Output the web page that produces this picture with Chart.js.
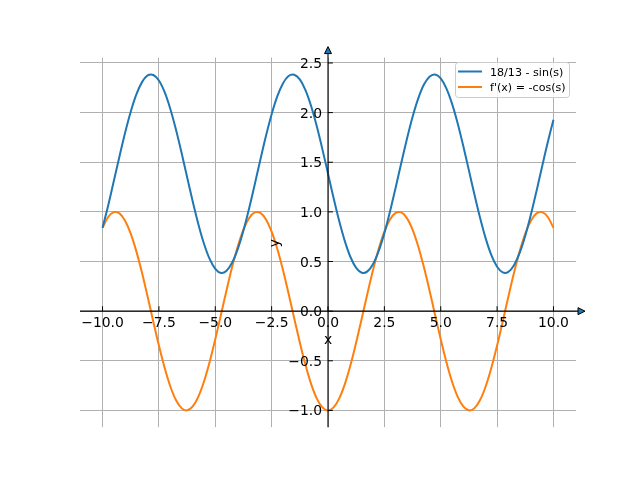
<!DOCTYPE html>
<html><head><meta charset="utf-8">
<script src="https://cdn.jsdelivr.net/npm/chart.js@4/dist/chart.umd.min.js"></script>
<style>html,body{margin:0;padding:0;background:#fff;}canvas{display:block;}</style>
</head><body>
<canvas id="c" width="640" height="480"></canvas>
<script>
const xValues = [-10,-9.75,-9.5,-9.25,-9,-8.75,-8.5,-8.25,-8,-7.75,-7.5,-7.25,-7,-6.75,-6.5,-6.25,-6,-5.75,-5.5,-5.25,-5,-4.75,-4.5,-4.25,-4,-3.75,-3.5,-3.25,-3,-2.75,-2.5,-2.25,-2,-1.75,-1.5,-1.25,-1,-0.75,-0.5,-0.25,0,0.25,0.5,0.75,1,1.25,1.5,1.75,2,2.25,2.5,2.75,3,3.25,3.5,3.75,4,4.25,4.5,4.75,5,5.25,5.5,5.75,6,6.25,6.5,6.75,7,7.25,7.5,7.75,8,8.25,8.5,8.75,9,9.25,9.5,9.75,10];
const seriesSin = [0.841,1.065,1.310,1.558,1.797,2.009,2.183,2.307,2.374,2.379,2.323,2.208,2.042,1.835,1.600,1.351,1.105,0.876,0.679,0.526,0.426,0.385,0.407,0.490,0.628,0.813,1.034,1.276,1.526,1.766,1.983,2.163,2.294,2.369,2.382,2.334,2.226,2.066,1.864,1.632,1.385,1.137,0.905,0.703,0.543,0.436,0.387,0.401,0.475,0.607,0.786,1.003,1.244,1.493,1.735,1.956,2.141,2.280,2.362,2.384,2.344,2.244,2.090,1.893,1.664,1.418,1.170,0.935,0.728,0.562,0.447,0.390,0.395,0.462,0.586,0.760,0.973,1.211,1.460,1.704,1.929];
const seriesCos = [0.839,0.948,0.997,0.985,0.911,0.781,0.602,0.386,0.146,-0.104,-0.347,-0.568,-0.754,-0.893,-0.977,-0.999,-0.960,-0.861,-0.709,-0.512,-0.284,-0.038,0.211,0.446,0.654,0.821,0.937,0.994,0.990,0.924,0.801,0.628,0.416,0.178,-0.071,-0.315,-0.540,-0.732,-0.878,-0.969,-1.000,-0.969,-0.878,-0.732,-0.540,-0.315,-0.071,0.178,0.416,0.628,0.801,0.924,0.990,0.994,0.937,0.821,0.654,0.446,0.211,-0.038,-0.284,-0.512,-0.709,-0.861,-0.960,-0.999,-0.977,-0.893,-0.754,-0.568,-0.347,-0.104,0.146,0.386,0.602,0.781,0.911,0.985,0.997,0.948,0.839];
const xTicks = [-10,-7.5,-5,-2.5,0,2.5,5,7.5,10];
const yTicks = [-1,-0.5,0,0.5,1,1.5,2,2.5];
const seriesLabels = ['18/13 - sin(s)', "f'(x) = -cos(s)"];
const seriesColors = ['#1f77b4', '#ff7f0e'];
const axisTitles = ['x', 'y'];
const xRange = [-11, 11];
const yRange = [-1.169, 2.554];

const fmt = v => v.toFixed(1).replace('-', '\u2212');
const FONT = '"DejaVu Sans", sans-serif';

const decor = {
  id: 'decor',
  afterDatasetsDraw(chart) {
    const ctx = chart.ctx, xs = chart.scales.x, ys = chart.scales.y, a = chart.chartArea;
    const x0 = xs.getPixelForValue(0), y0 = ys.getPixelForValue(0);
    ctx.save();
    ctx.strokeStyle = '#000'; ctx.lineWidth = 1.1; ctx.lineCap = 'butt';
    ctx.beginPath(); ctx.moveTo(a.left, y0); ctx.lineTo(a.right + 2, y0); ctx.stroke();
    ctx.beginPath(); ctx.moveTo(x0, a.bottom); ctx.lineTo(x0, a.top - 4); ctx.stroke();
    ctx.lineWidth = 1;
    xs.ticks.forEach(t => { const p = xs.getPixelForValue(t.value); ctx.beginPath(); ctx.moveTo(p, y0); ctx.lineTo(p, y0 - 4.9); ctx.stroke(); });
    ys.ticks.forEach(t => { const p = ys.getPixelForValue(t.value); ctx.beginPath(); ctx.moveTo(x0, p); ctx.lineTo(x0 + 4.9, p); ctx.stroke(); });
    ctx.fillStyle = '#000';
    ctx.font = '13.9px ' + FONT;
    ctx.textBaseline = 'alphabetic';
    ctx.textAlign = 'center';
    xs.ticks.forEach(t => ctx.fillText(fmt(t.value), xs.getPixelForValue(t.value), y0 + 15.4));
    ctx.textAlign = 'right';
    ys.ticks.forEach(t => ctx.fillText(fmt(t.value), x0 - 6, ys.getPixelForValue(t.value) + 5));
    ctx.fillStyle = '#1f77b4'; ctx.strokeStyle = '#000'; ctx.lineWidth = 1;
    ctx.beginPath(); ctx.moveTo(a.right + 2, y0 - 3.5); ctx.lineTo(a.right + 9, y0); ctx.lineTo(a.right + 2, y0 + 3.5); ctx.closePath(); ctx.fill(); ctx.stroke();
    ctx.beginPath(); ctx.moveTo(x0 - 3.5, a.top - 4); ctx.lineTo(x0, a.top - 11); ctx.lineTo(x0 + 3.5, a.top - 4); ctx.closePath(); ctx.fill(); ctx.stroke();
    ctx.fillStyle = '#000';
    ctx.textAlign = 'center';
    ctx.fillText(axisTitles[0], x0, y0 + 32.5);
    ctx.save(); ctx.translate(x0 - 49.5, y0 - 68); ctx.rotate(-Math.PI / 2); ctx.fillText(axisTitles[1], 0, 0); ctx.restore();
    ctx.restore();
  },
  afterDraw(chart) {
    const ctx = chart.ctx;
    ctx.save();
    ctx.beginPath();
    ctx.roundRect(455.5, 62.5, 114, 35, 3);
    ctx.fillStyle = 'rgba(255,255,255,0.8)'; ctx.fill();
    ctx.strokeStyle = '#cccccc'; ctx.lineWidth = 1; ctx.stroke();
    ctx.font = '11.1px ' + FONT; ctx.textAlign = 'left'; ctx.textBaseline = 'alphabetic';
    chart.data.datasets.forEach((ds, i) => {
      const y = 71.5 + i * 15.5;
      ctx.strokeStyle = ds.borderColor; ctx.lineWidth = 2;
      ctx.beginPath(); ctx.moveTo(458, y); ctx.lineTo(482, y); ctx.stroke();
      ctx.fillStyle = '#000';
      ctx.fillText(ds.label, 490, y + 4.1);
    });
    ctx.restore();
  }
};

const mk = ys => xValues.map((x, i) => ({x, y: ys[i]}));

new Chart(document.getElementById('c'), {
  type: 'line',
  data: {
    datasets: [
      {label: seriesLabels[0], data: mk(seriesSin), borderColor: seriesColors[0], borderWidth: 2, pointRadius: 0, tension: 0.3, fill: false},
      {label: seriesLabels[1], data: mk(seriesCos), borderColor: seriesColors[1], borderWidth: 2, pointRadius: 0, tension: 0.3, fill: false}
    ]
  },
  options: {
    responsive: false, animation: false, devicePixelRatio: 1,
    layout: {padding: {left: 80, right: 64, top: 57.6, bottom: 52.8}},
    plugins: {legend: {display: false}, tooltip: {enabled: false}},
    scales: {
      x: {
        type: 'linear', min: xRange[0], max: xRange[1], position: {y: 0},
        afterBuildTicks: s => { s.ticks = xTicks.map(v => ({value: v})); },
        ticks: {display: false},
        grid: {color: '#b0b0b0', lineWidth: 1, drawTicks: false},
        border: {display: false}
      },
      y: {
        type: 'linear', min: yRange[0], max: yRange[1], position: {x: 0},
        afterBuildTicks: s => { s.ticks = yTicks.map(v => ({value: v})); },
        ticks: {display: false},
        grid: {color: '#b0b0b0', lineWidth: 1, drawTicks: false},
        border: {display: false}
      }
    }
  },
  plugins: [decor]
});
</script>
</body></html>
